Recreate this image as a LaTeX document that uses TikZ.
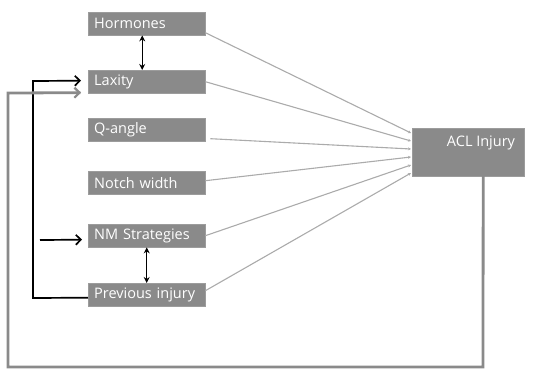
\documentclass[tikz,border=0pt]{standalone}
\usepackage{fontspec}
\setmainfont{Open Sans}
\usetikzlibrary{arrows.meta}
\definecolor{boxgray}{HTML}{8A8A8A}
\definecolor{linegray}{HTML}{ABABAB}
\definecolor{loopgray}{HTML}{8A8A8A}
\begin{document}
\begin{tikzpicture}[x=1pt,y=-1pt,>={Straight Barb[length=5pt,width=10pt]},
  font=\fontsize{14.5}{16}\selectfont,
  factor/.style={fill=boxgray,draw=boxgray!85!white,text=white,anchor=north west,
    minimum height=23pt,inner xsep=6pt,inner ysep=0pt,text width=105pt,align=left},
  outcome/.style={fill=boxgray,draw=boxgray!85!white,anchor=north west,
    minimum width=112pt,minimum height=48pt},
  feed/.style={draw=linegray,line width=1.1pt,-{Stealth[length=3pt,width=3pt]}},
  loopline/.style={draw=loopgray,line width=2.8pt,line cap=rect},
  backline/.style={draw=black,line width=1.7pt},
  link/.style={draw=black,line width=1.4pt,{Stealth[length=6pt,width=6pt]}-{Stealth[length=6pt,width=6pt]}}]
  \useasboundingbox (0,0) rectangle (547,369);

  % factors
  \node[factor] (horm) at (88,12) {Hormones};
  \node[factor] (lax) at (88,70) {Laxity};
  \node[factor] (qang) at (88,118) {Q-angle};
  \node[factor] (notch) at (88,171) {Notch width};
  \node[factor] (nms) at (88,224) {NM Strategies};
  \node[factor] (prev) at (88,283) {Previous injury};

  % outcome
  \node[outcome] (acl) at (412,128) {};
  \node[text=white] (acltxt) at (481,143) {ACL Injury};

  % ends on the outcome box
  \coordinate (a1) at (411,133);
  \coordinate (a2) at (411,141);
  \coordinate (a3) at (411,149);
  \coordinate (a4) at (411,157);
  \coordinate (a5) at (411,165);
  \coordinate (a6) at (411,173);

  \draw[feed] ([yshift=-9pt]horm.east) -- (a1);
  \draw[feed] (lax.east) -- (a2);
  \draw[feed] ([xshift=5pt,yshift=-9pt]qang.east) -- (a3);
  \draw[feed] ([yshift=2pt]notch.east) -- (a4);
  \draw[feed] (nms.east) -- (a5);
  \draw[feed] ([yshift=4pt]prev.east) -- (a6);

  % two-way links
  \draw[link] ([xshift=-4.5pt]horm.south) -- ([xshift=-4.5pt]lax.north);
  \draw[link] (nms.south) -- (prev.north);

  % black feedback from previous injury
  \coordinate (bk1) at (33,298);
  \coordinate (bk2) at (33,81);
  \coordinate (bk3) at (40,240);
  \draw[backline,->] ([yshift=-3pt]prev.west) -- (bk1) -- (bk2)
    -- ([xshift=-7pt,yshift=1pt]lax.west);
  \draw[backline,->] (bk3) -- ([xshift=-6pt,yshift=-4pt]nms.west);

  % gray feedback from ACL injury
  \coordinate (gy1) at (483,367);
  \coordinate (gy2) at (8,367);
  \coordinate (gy3) at (8,93);
  \draw[loopline] ([xshift=15pt]acl.south) -- (gy1) -- (gy2) -- (gy3)
    -- ([xshift=-9pt,yshift=-11pt]lax.west);
  \draw[draw=loopgray,line width=2.2pt,->] ([xshift=-12pt,yshift=-11pt]lax.west)
    -- ([xshift=-7pt,yshift=-11pt]lax.west);
\end{tikzpicture}
\end{document}
